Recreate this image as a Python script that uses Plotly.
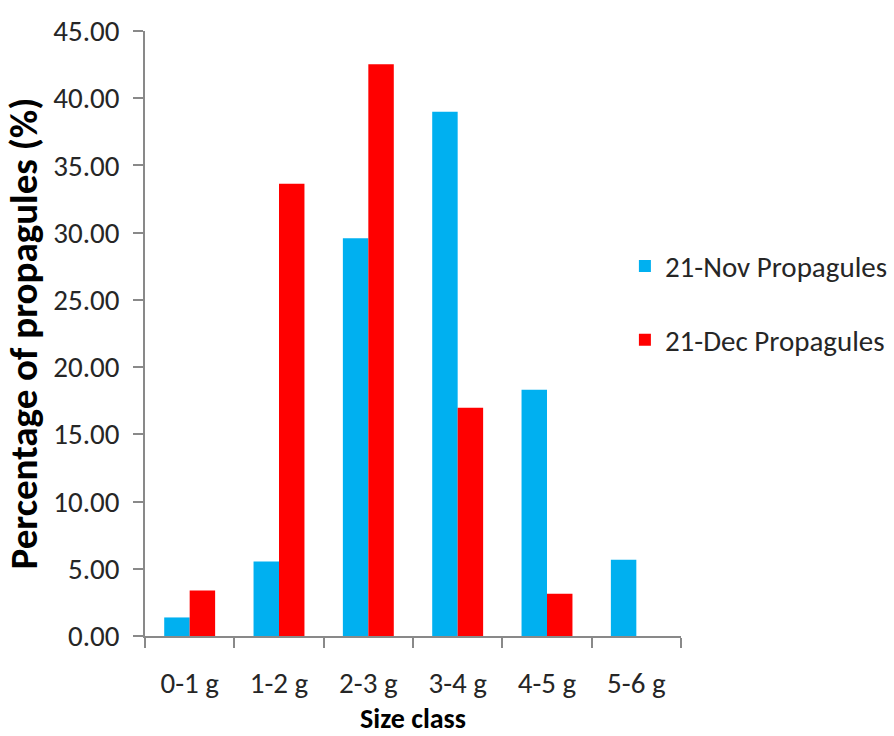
import plotly.graph_objects as go

categories = ["0-1 g", "1-2 g", "2-3 g", "3-4 g", "4-5 g", "5-6 g"]
nov_values = [1.38, 5.55, 29.59, 39.00, 18.31, 5.67]
dec_values = [3.39, 33.63, 42.53, 16.97, 3.14, 0.0]
series_names = ["21-Nov Propagules", "21-Dec Propagules"]

FONT = "Carlito, Lato, sans-serif"
AXIS_COLOR = "#898989"

fig = go.Figure()
fig.add_trace(go.Bar(x=categories, y=nov_values, name=series_names[0],
                     marker=dict(color="#00B0F0", line=dict(width=0)),
                     legendgroup="a"))
fig.add_trace(go.Bar(x=categories, y=dec_values, name=series_names[1],
                     marker=dict(color="#FF0000", line=dict(width=0)),
                     legendgroup="b"))

fig.update_layout(
    width=894, height=736,
    margin=dict(l=145, r=213, t=31, b=100, autoexpand=False),
    paper_bgcolor="white", plot_bgcolor="white",
    barmode="group", bargap=0.43, bargroupgap=0,
    font=dict(family=FONT, color="#262626", size=28),
    legend=dict(xref="container", yref="container", x=0.699, y=0.673,
                xanchor="left", yanchor="top",
                font=dict(family=FONT, size=29, color="#262626"),
                traceorder="grouped", tracegroupgap=33,
                bgcolor="rgba(0,0,0,0)"),
    showlegend=True,
)
fig.update_xaxes(
    showline=True, linecolor=AXIS_COLOR, linewidth=1.5,
    ticks="outside", tickson="boundaries", ticklen=10, tickcolor=AXIS_COLOR, tickwidth=1.5,
    showgrid=False, zeroline=False, tickangle=0,
    tickfont=dict(family=FONT, size=29, color="#262626"),
    ticklabelstandoff=20,
    title=dict(text="<b>Size class</b>", font=dict(family=FONT, size=28, color="#000000"), standoff=16),
)
fig.update_yaxes(
    range=[0, 45], dtick=5, tick0=0, tickformat=".2f",
    showline=True, linecolor=AXIS_COLOR, linewidth=1.5,
    ticks="outside", ticklen=10, tickcolor=AXIS_COLOR, tickwidth=1.5,
    showgrid=False, zeroline=False,
    tickfont=dict(family=FONT, size=29, color="#262626"),
    ticklabelstandoff=8,
    title=dict(text="<b>Percentage of propagules (%)</b>", font=dict(family=FONT, size=39, color="#000000"), standoff=10),
)

fig.write_html("out.html")
